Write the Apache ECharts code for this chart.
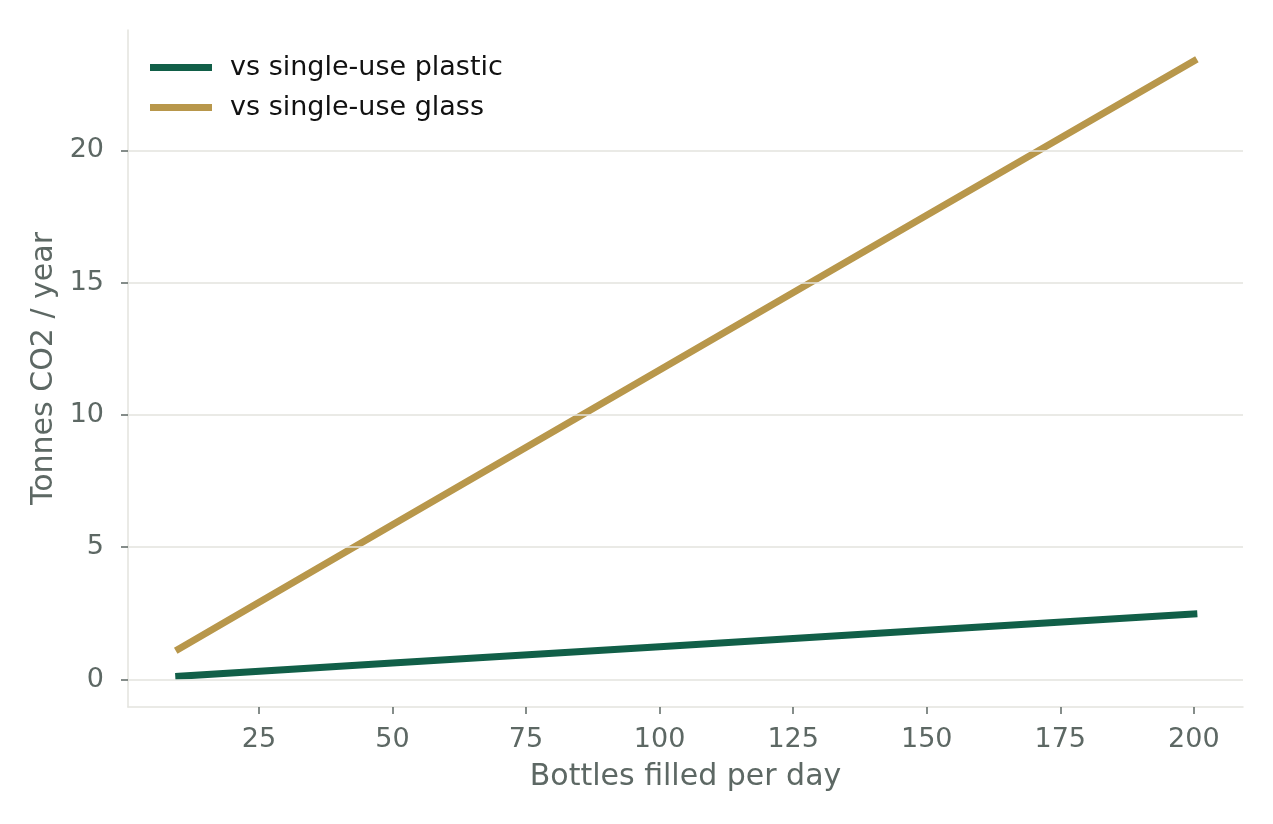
<!DOCTYPE html>
<html>
<head>
<meta charset="utf-8">
<script src="https://cdn.jsdelivr.net/npm/echarts@6/dist/echarts.min.js"></script>
<style>
  html, body { margin: 0; padding: 0; background: #fff; }
  #chart { width: 1273px; height: 824px; }
</style>
</head>
<body>
<div id="chart"></div>
<script>
// bottles per day read along the x axis
const bottles = [10, 50, 100, 150, 200]
// tonnes CO2 saved per year
const plastic = [0.12, 0.62, 1.24, 1.86, 2.48]
const glass = [1.15, 5.85, 11.7, 17.55, 23.38]
const xTicks = [25, 50, 75, 100, 125, 150, 175, 200]
const yTicks = [0, 5, 10, 15, 20]

const font = '"DejaVu Sans", sans-serif'
const labelColor = '#5d6864'
const spineColor = '#e3e3de'

const chart = echarts.init(document.getElementById('chart'), null, { renderer: 'canvas' })

chart.setOption({
  animation: false,
  backgroundColor: '#fff',
  textStyle: { fontFamily: font },
  grid: { left: 128, right: 30, top: 30, bottom: 117 },
  legend: {
    left: 145,
    top: 49,
    orient: 'vertical',
    itemWidth: 62,
    itemHeight: 7,
    itemGap: 13,
    icon: 'rect',
    textStyle: { fontSize: 27, lineHeight: 26, color: '#111', fontFamily: font, padding: [0, 0, 0, 13] },
    data: ['vs single-use plastic', 'vs single-use glass']
  },
  xAxis: {
    type: 'value',
    min: 0.5,
    max: 209.2,
    name: 'Bottles filled per day',
    nameLocation: 'middle',
    nameGap: 55,
    nameTextStyle: { fontSize: 30, color: labelColor, fontFamily: font },
    axisLine: { show: true, onZero: false, lineStyle: { color: spineColor, width: 1.5 } },
    axisTick: { show: true, length: 7, lineStyle: { color: labelColor, width: 1.5 }, customValues: xTicks },
    axisLabel: { fontSize: 27, color: labelColor, margin: 19, customValues: xTicks },
    splitLine: { show: false }
  },
  yAxis: {
    type: 'value',
    min: -1.04,
    max: 24.55,
    name: 'Tonnes CO2 / year',
    nameLocation: 'middle',
    nameGap: 65,
    nameTextStyle: { fontSize: 30, color: labelColor, fontFamily: font },
    axisLine: { show: true, onZero: false, lineStyle: { color: spineColor, width: 1.5 } },
    axisTick: { show: true, length: 7, lineStyle: { color: labelColor, width: 1.5 }, customValues: yTicks },
    axisLabel: { fontSize: 27, color: labelColor, margin: 24, customValues: yTicks },
    splitLine: { show: false }
  },
  series: [
    {
      name: 'vs single-use plastic',
      type: 'line',
      data: bottles.map((b, i) => [b, plastic[i]]),
      showSymbol: false,
      lineStyle: { width: 7, color: '#115f48', cap: 'square' },
      itemStyle: { color: '#115f48' },
      z: 3,
      markLine: {
        silent: true,
        symbol: 'none',
        label: { show: false },
        lineStyle: { color: spineColor, width: 1.5, type: 'solid' },
        data: yTicks.map(v => ({ yAxis: v }))
      }
    },
    {
      name: 'vs single-use glass',
      type: 'line',
      data: bottles.map((b, i) => [b, glass[i]]),
      showSymbol: false,
      lineStyle: { width: 7, color: '#b8974b', cap: 'square' },
      itemStyle: { color: '#b8974b' },
      z: 3
    }
  ]
})
</script>
</body>
</html>
